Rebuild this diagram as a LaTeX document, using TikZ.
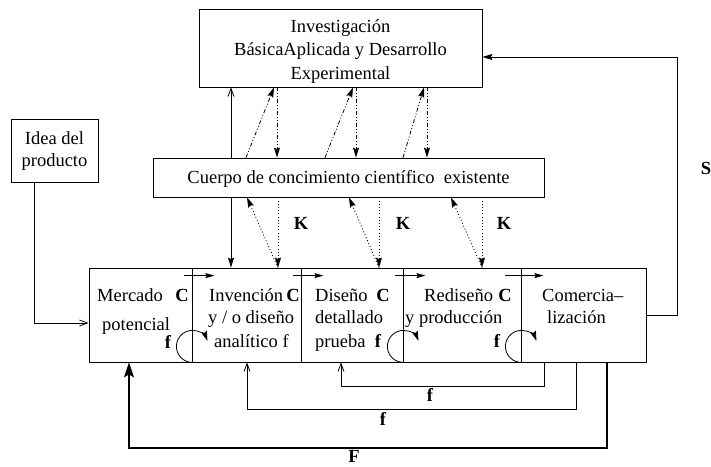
\documentclass[tikz,border=0pt]{standalone}
\usepackage{fontspec}
\setmainfont{Liberation Serif}
\usetikzlibrary{arrows.meta}
\begin{document}
\begin{tikzpicture}[x=1pt,y=-1pt,
  every node/.style={font=\fontsize{18.5}{23.5}\selectfont, inner sep=0pt},
  box/.style={draw, line width=0.8pt, fill=white},
  wire/.style={line width=0.8pt},
  openhead/.style={wire, -{Straight Barb[length=8pt,width=6pt]}},
  solidhead/.style={wire, -{Stealth[length=10pt,width=6pt,inset=1.5pt]}},
  smallhead/.style={wire, -{Stealth[length=9pt,width=5pt,inset=1.5pt]}},
  dashdd/.style={solidhead, dash pattern=on 4pt off 2pt on 1pt off 2pt on 1pt off 2pt},
  dots/.style={solidhead, dash pattern=on 1pt off 2.2pt},
  bigfeed/.style={line width=1.3pt, -{Stealth[length=15pt,width=10pt,inset=3pt]}},
  txt/.style={anchor=base west},
  mid/.style={anchor=base},
  lbl/.style={anchor=base, font=\fontsize{18.5}{23.5}\selectfont\bfseries}]

\useasboundingbox (0,0) rectangle (711,466);
\fill[white] (0,0) rectangle (711,466);

% boxes
\node[box, minimum width=283pt, minimum height=78pt] (inv) at (340.5,48) {};
\node[mid] (inv1) at (340.5,32) {Investigación};
\node[mid] (inv2) at (340.5,55.5) {BásicaAplicada y Desarrollo};
\node[mid] (inv3) at (340.5,79) {Experimental};

\node[box, minimum width=87pt, minimum height=63pt] (idea) at (54.5,150.5) {};
\node[mid] (idea1) at (54.5,144) {Idea del};
\node[mid] (idea2) at (54.5,166) {producto};

\node[box, minimum width=391pt, minimum height=39pt] (cuerpo) at (348.5,177.5) {};
\node[mid] (cuerpot) at (348.5,183) {Cuerpo de concimiento científico\ \ existente};

% stages of the process
\node[box, minimum width=103pt, minimum height=94pt] (m1) at (140.5,315) {};
\node[box, minimum width=109pt, minimum height=94pt] (m2) at (246.5,315) {};
\node[box, minimum width=102pt, minimum height=94pt] (m3) at (352,315) {};
\node[box, minimum width=118pt, minimum height=94pt] (m4) at (462,315) {};
\node[box, minimum width=125pt, minimum height=94pt] (m5) at (583.5,315) {};

\node[txt] (t11) at (97,301) {Mercado};
\node[txt] (t12) at (102,330.5) {potencial};
\node[lbl] (c1) at (182,301) {C};
\node[lbl] (f1) at (168,348) {f};

\node[txt] (t21) at (209,301) {Invención};
\node[txt] (t22) at (208,323.5) {y / o diseño};
\node[txt] (t23) at (214,347) {analítico f};
\node[lbl] (c2) at (293,301) {C};

\node[txt] (t31) at (315,301) {Diseño};
\node[txt] (t32) at (315,323.5) {detallado};
\node[txt] (t33) at (315,347) {prueba};
\node[lbl] (c3) at (383,301) {C};
\node[lbl] (f3) at (378,347) {f};

\node[txt] (t41) at (424,301) {Rediseño};
\node[txt] (t42) at (405,323.5) {y producción};
\node[lbl] (c4) at (505,301) {C};
\node[lbl] (f4) at (497,347) {f};

\node[txt] (t51) at (542,301) {Comercia--};
\node[txt] (t52) at (547,323.5) {lización};

% flow arrows across the stage borders
\foreach \m in {m1,m2,m3}
  \draw[smallhead] ([xshift=-8pt,yshift=-8pt]\m.north east) -- ([xshift=22pt,yshift=-8pt]\m.north east);
\draw[smallhead] ([xshift=-16pt,yshift=-8pt]m4.north east) -- ([xshift=22pt,yshift=-8pt]m4.north east);

% local loops
\foreach \m in {m1,m3,m4}
  \draw[solidhead] (\m.south east) arc[start angle=270, end angle=20, radius=16pt];

% columns used by the vertical connectors
\coordinate (xa) at (231,0);
\coordinate (u1) at (246,0); \coordinate (v1) at (274,0); \coordinate (w1) at (277,0);
\coordinate (u2) at (325,0); \coordinate (v2) at (353,0); \coordinate (w2) at (356,0);
\coordinate (u3) at (403,0); \coordinate (v3) at (424,0); \coordinate (w3) at (427,0);
\coordinate (k1) at (278,0); \coordinate (d1) at (247,0);
\coordinate (k2) at (379,0); \coordinate (d2) at (349,0);
\coordinate (k3) at (482,0); \coordinate (d3) at (451,0);

% idea -> market
\draw[openhead] ([xshift=-20.5pt]idea.south) |- ([yshift=-8pt]m1.west);

% solid links through the knowledge body
\draw[openhead] (xa |- cuerpo.north) -- (xa |- inv.south);
\draw[solidhead] (xa |- cuerpo.south) -- (xa |- m2.north);

% research <-> knowledge body
\draw[dashdd] (u1 |- cuerpo.north) -- (v1 |- inv.south);
\draw[dashdd] (w1 |- inv.south) -- (w1 |- cuerpo.north);
\draw[dashdd] (u2 |- cuerpo.north) -- (v2 |- inv.south);
\draw[dashdd] (w2 |- inv.south) -- (w2 |- cuerpo.north);
\draw[dashdd] (u3 |- cuerpo.north) -- (v3 |- inv.south);
\draw[dashdd] (w3 |- inv.south) -- (w3 |- cuerpo.north);

% knowledge body <-> stages
\draw[dots] (k1 |- cuerpo.south) -- (k1 |- m2.north);
\draw[dots] (k1 |- m2.north) -- (d1 |- cuerpo.south);
\draw[dots] (k2 |- cuerpo.south) -- (k2 |- m3.north);
\draw[dots] (k2 |- m3.north) -- (d2 |- cuerpo.south);
\draw[dots] (k3 |- cuerpo.south) -- (k3 |- m4.north);
\draw[dots] (k3 |- m4.north) -- (d3 |- cuerpo.south);
\node[lbl] (K1) at (301,229) {K};
\node[lbl] (K2) at (403,229) {K};
\node[lbl] (K3) at (504,229) {K};

% S feedback to research
\coordinate (sc) at (677,57);
\draw[solidhead] (m5.east) -| (sc) -- (sc -| inv.east);
\node[lbl] (S) at (706,174) {S};

% feedback loops below the stages
\coordinate (fa) at (544,386); \coordinate (fb) at (341,386);
\draw[openhead] (fa |- m5.south) -- (fa) -- (fb) -- (fb |- m3.south);
\node[lbl] (fl1) at (430,401) {f};
\coordinate (ga) at (576,409); \coordinate (gb) at (247,409);
\draw[openhead] (ga |- m5.south) -- (ga) -- (gb) -- (gb |- m2.south);
\node[lbl] (fl2) at (383,425) {f};
\coordinate (ha) at (607,448); \coordinate (hb) at (129,448);
\draw[bigfeed] (ha |- m5.south) -- (ha) -- (hb) -- (hb |- m1.south);
\node[lbl] (Fl) at (354,462.5) {F};

\end{tikzpicture}
\end{document}
